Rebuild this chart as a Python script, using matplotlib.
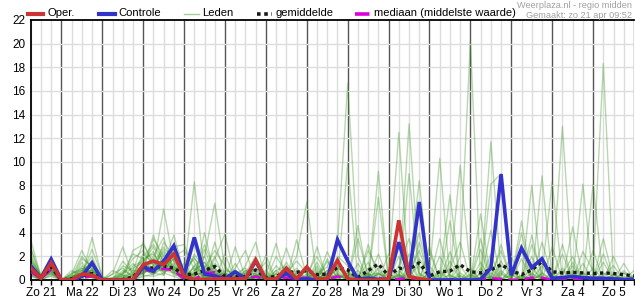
import numpy as np
import matplotlib
matplotlib.use("Agg")
from matplotlib import pyplot as plt
from matplotlib.lines import Line2D

plt.rcParams['font.family'] = ['Liberation Sans', 'DejaVu Sans']

# 6-hourly steps, from Zo 21 06:00 up to Ma 6 00:00
day_labels = ['Zo 21', 'Ma 22', 'Di 23', 'Wo 24', 'Do 25', 'Vr 26', 'Za 27', 'Zo 28',
              'Ma 29', 'Di 30', 'Wo 1', 'Do 2', 'Vr 3', 'Za 4', 'Zo 5']
n_steps = 60

oper = [1.0, 0.15, 1.45, 0, 0, 0.5, 0.4, 0, 0, 0, 0.05, 1.3, 1.6, 1.3, 2.2,
        0.3, 0.05, 0.05, 0.1, 0.1, 0.1, 0.1, 1.7, 0.05, 0.1, 1.0, 0.1, 1.1, 0.1, 0.1,
        1.65, 0.1, 0, 0, 0, 0.1, 5.05, 0.3, 0.1, 0]

controle = [1.2, 0.15, 1.75, 0, 0, 0.3, 1.45, 0, 0, 0, 0, 1.1, 0.75, 1.6, 2.9,
            0.4, 3.6, 0.5, 0.35, 0.1, 0.7, 0.1, 1.6, 0, 0.05, 0.55, 0, 0.1, 0, 0,
            3.4, 1.6, 0.05, 0.15, 0.05, 0.05, 3.2, 0.3, 6.6, 0, 0, 0, 0, 0, 0.05,
            1.0, 8.95, 0.4, 2.7, 1.05, 1.8, 0.15, 0.2, 0.3, 0.2, 0.15, 0.15, 0.1, 0.05, 0.05]

gemiddelde = [0.9, 0.2, 1.1, 0.0, 0.1, 0.35, 0.55, 0.05, 0.0, 0.05, 0.25, 1.1, 1.0, 1.2, 1.0,
              0.45, 0.5, 0.8, 1.15, 0.3, 0.3, 0.3, 0.85, 0.2, 0.3, 0.7, 0.65, 0.8, 0.45, 0.5,
              1.05, 0.85, 0.2, 0.8, 1.35, 0.35, 1.0, 0.9, 1.45, 0.35, 0.7, 0.75, 1.3, 0.7, 0.6,
              0.85, 1.3, 0.8, 0.45, 0.85, 1.55, 0.7, 0.6, 0.65, 0.6, 0.55, 0.6, 0.55, 0.45, 0.35]

mediaan = [0.7, 0.1, 0.9, 0, 0, 0.2, 0.3, 0, 0, 0, 0.1, 0.9, 0.7, 0.95, 0.8,
           0.1, 0.05, 0.6, 0.65, 0.05, 0.05, 0.05, 0.3, 0, 0.05, 0.2, 0.1, 0.2, 0.05, 0.05,
           0.3, 0.1, 0, 0.1, 0.2, 0, 0.1, 0.15, 0.1, 0, 0, 0.05, 0.05, 0, 0.1,
           0.15, 0.1, 0, 0.05, 0.2, 0.2, 0, 0, 0.05, 0, 0, 0, 0, 0, 0]

leden = [
    [3.4, 0.3, 1.2, 0, 0.2, 0.8, 1.5, 0, 0, 0.5, 1.8, 2.5, 1.2, 6.0, 1.5, 0.3, 1.0, 0.2, 0.5, 0, 0.8, 0, 0.3,
     0, 1.2, 0.4, 0, 0.5, 2.0, 0.3, 0.8, 0, 0.2, 1.5, 0, 0, 1.2, 3.5, 0.5, 0, 2.0, 0.4, 0,
     1.0, 0, 0.3, 2.5, 0, 1.8, 0, 0.4, 0, 0, 1.2, 0, 0.5, 0, 0, 0, 0],
    [1.5, 0.1, 0.8, 0, 0, 1.2, 0.6, 0, 0.2, 0, 0.4, 1.8, 2.2, 1.0, 2.4, 0.5, 8.3, 0.6, 1.0, 0.2, 0, 0.5, 1.4,
     0, 0, 2.7, 0.3, 0.2, 0.6, 1.1, 3.0, 16.6, 2.0, 0, 0.5, 0.3, 0, 1.2, 4.0, 0, 0, 1.0, 3.2,
     0, 0.5, 0, 1.2, 0.8, 0, 2.0, 0, 0, 1.0, 0, 0.6, 0, 2.2, 0, 0.3, 0],
    [0.8, 0.4, 2.0, 0, 0.5, 2.5, 0.8, 0, 0, 1.2, 0.8, 0.8, 3.5, 2.0, 0.6, 1.4, 0.2, 2.0, 6.5, 1.0, 0.3, 0, 0.2,
     0.8, 0, 0, 1.0, 0, 1.5, 0, 0.4, 0, 0, 2.5, 0.8, 0, 0.5, 0, 1.8, 0.4, 0, 0, 2.0,
     20.2, 0, 1.0, 0, 0, 0.4, 0, 3.2, 0.3, 0, 0.8, 0, 1.0, 0, 0, 0, 0.2],
    [2.2, 0.2, 1.4, 0, 0, 0.3, 3.6, 0.2, 0, 0, 0, 1.2, 0.6, 1.4, 3.8, 0.6, 0.4, 0, 1.8, 3.9, 0, 0.6, 0.8,
     0, 0.5, 0.3, 2.0, 6.6, 0, 0.4, 0, 0.6, 0, 0, 2.2, 0, 0, 0.8, 0, 0, 0.8, 0, 0,
     0, 2.6, 0, 0.8, 0, 0, 1.0, 0, 0, 0, 0, 2.4, 0.8, 18.3, 0, 0.6, 0],
    [0.5, 0, 0.9, 0, 0, 0.6, 0.4, 0, 0.5, 2.8, 0.3, 0.6, 1.0, 2.6, 1.2, 0, 2.2, 1.0, 0.4, 0, 2.8, 0.2, 0,
     0.4, 0, 0, 0.6, 1.0, 0, 2.4, 0.5, 0, 1.4, 0, 0, 2.2, 0, 13.2, 0.6, 0, 0, 1.6, 0,
     0, 0, 2.2, 0, 1.0, 0, 0, 0.6, 0, 3.0, 0, 0, 0, 0.4, 1.2, 0, 0.3],
    [1.8, 0.3, 1.0, 0, 0.3, 2.0, 1.0, 0, 0, 0, 2.5, 3.0, 1.5, 0.8, 1.8, 0, 0.6, 3.0, 0.8, 0.5, 0, 1.2, 3.2,
     0, 0.3, 0, 0, 0.4, 0, 0.8, 1.2, 0, 3.5, 0.4, 0, 0.8, 12.5, 0, 0, 1.2, 0, 0, 0.4,
     0, 1.5, 0, 0, 0.4, 0, 0.6, 0, 0, 13.0, 0, 0, 0, 0, 2.0, 0, 0],
    [1.2, 0.2, 1.6, 0, 0.8, 0.4, 1.2, 0, 0, 0.6, 1.0, 1.5, 2.8, 1.2, 0.8, 0.8, 0, 0.3, 2.0, 0, 1.0, 2.5, 0,
     0, 2.0, 0.6, 0, 0, 0, 0, 2.0, 1.2, 0, 0.5, 0, 0, 0.6, 1.5, 0, 0.6, 10.3, 0, 0,
     0.5, 0, 11.7, 0.5, 0, 2.5, 0, 0, 0.6, 0, 0, 1.4, 0, 0, 0.5, 0, 0],
    [0.6, 0.1, 0.6, 0, 0, 1.0, 0.5, 0, 0, 0, 0.3, 0.8, 0.6, 3.2, 2.0, 2.5, 1.5, 0, 0.6, 0.3, 0, 0.3, 0.6,
     1.5, 0, 0, 3.4, 0.3, 0, 1.6, 0.2, 9.9, 0, 0, 0.6, 0, 2.0, 0, 0, 0, 0, 0.5, 9.7,
     0.8, 0, 0, 0.4, 2.0, 0, 1.2, 0, 0, 0.5, 2.0, 0, 0, 0, 0, 0.8, 0],
    [2.6, 0.4, 1.8, 0, 0.2, 0.5, 2.6, 0.3, 0, 0, 0, 0.6, 1.8, 1.0, 2.6, 0.2, 0.8, 1.5, 0, 0, 0.5, 0, 1.0,
     0, 0.8, 1.2, 0, 0.8, 0.4, 0, 0.6, 0, 0.5, 0, 9.2, 0, 0, 0.6, 2.5, 0, 0, 0.4, 0,
     0, 0, 8.1, 9.0, 0, 0, 3.0, 0.6, 0, 0.8, 0, 0, 2.5, 0, 0, 0, 0],
    [1.0, 0.2, 0.7, 0, 0, 1.5, 0.2, 0, 0, 1.6, 0.6, 2.0, 3.0, 1.6, 0.4, 0.4, 3.0, 0.5, 1.4, 0.6, 0, 0, 0.4,
     0.2, 0, 1.0, 0.4, 0, 0.8, 0, 1.0, 0.4, 0, 3.0, 0, 0, 0, 1.0, 8.4, 0, 0.6, 0, 1.2,
     0, 3.5, 0, 0, 0.8, 0, 0, 8.8, 0, 0, 1.5, 0, 0, 0.6, 0, 0, 0.4],
    [0.4, 0, 0.5, 0, 0, 0, 1.0, 0, 0.8, 0.4, 0, 1.0, 0.4, 2.2, 1.0, 1.0, 0, 4.0, 0.3, 0, 0.6, 0, 0.5,
     0, 0, 0.5, 1.6, 0.6, 0, 0.6, 0, 0, 0.8, 0, 1.0, 0, 0, 9.0, 0, 2.8, 0, 0, 0,
     0, 0.6, 0, 1.6, 0, 0, 8.0, 0, 0, 0, 0, 0.6, 0, 1.5, 0, 0, 0],
    [1.6, 0.3, 1.2, 0, 0.4, 0.2, 0.8, 0, 0, 0, 1.2, 1.6, 2.4, 0.6, 1.2, 0, 0.3, 0.8, 1.0, 0, 1.4, 0, 0,
     0.4, 3.1, 0, 0.2, 0, 0.6, 0.5, 0, 0.6, 0, 0, 7.0, 0, 0.4, 0, 0, 0.5, 0, 2.4, 0,
     0, 0, 0.6, 0, 0, 0, 0, 0.5, 8.3, 0, 0, 8.1, 0, 0, 0.4, 0, 0],
    [0.9, 0.2, 1.0, 0, 0, 0.8, 2.0, 0, 0, 0.3, 0, 0.7, 0.8, 1.8, 0.8, 0, 1.2, 2.0, 0, 2.2, 0, 0, 0.4,
     0, 0, 0, 0.8, 0, 2.8, 0, 0.4, 0, 0, 1.0, 0, 0.6, 0, 0.4, 1.2, 0, 0.4, 7.2, 0,
     0, 1.0, 0, 0, 0, 4.0, 0, 1.2, 0, 0, 0.6, 0, 8.1, 0, 0, 0, 0],
    [2.0, 0.3, 1.5, 0, 0.6, 0.8, 0.4, 0, 0.2, 0.6, 2.2, 1.8, 0.6, 0.4, 2.2, 0.3, 0.6, 0.2, 3.2, 0.4, 0.5, 1.0, 0,
     0.6, 0, 0.4, 0, 0, 0, 0.8, 0, 0, 0, 0.4, 0.6, 0, 3.0, 0, 0, 0, 0, 0, 0.6,
     0, 0, 1.4, 0, 0.5, 0, 0.5, 0, 0, 2.2, 0, 0, 0, 0, 0, 1.4, 0],
    [0.3, 0, 0.4, 0, 0, 0, 0.3, 0, 0, 0, 0, 0.4, 0.3, 0.6, 0.3, 0, 0, 0, 0.2, 0, 0, 0, 0,
     0, 0, 0, 0, 0, 0, 0, 0, 0, 0, 0, 0, 0, 0, 0, 0, 0, 0, 0, 0,
     0, 0, 0, 0, 0, 0, 0, 0, 0, 0, 0, 0, 0, 0, 0, 0, 0],
    [1.1, 0.1, 0.9, 0, 0, 0.5, 0.2, 0, 0, 0.3, 0.6, 1.2, 1.0, 0.8, 0.6, 0, 0.5, 0.6, 0.2, 0, 0, 0, 0.3,
     0, 0, 0, 0, 0, 0, 0, 0.5, 0, 0, 0, 0, 0, 0.3, 0, 0, 0, 0, 0, 0,
     0, 0, 0.3, 0, 0, 0, 0, 0, 0, 0, 0, 0, 0, 0, 0, 0, 0],
    [0.7, 0.2, 1.3, 0, 0, 0.2, 0.6, 0, 0, 0, 0, 0.9, 0.5, 1.0, 0.9, 0.2, 0, 0.5, 0.6, 0, 0.2, 0, 0.4,
     0, 0, 0.2, 0, 0.3, 0, 0, 0, 0, 0, 0.3, 0, 0, 0, 0, 0, 0, 0, 0, 0.3,
     0, 0, 0, 0, 0, 0.3, 0, 0, 0, 0, 0, 0, 0, 0, 0, 0, 0],
    [1.4, 0.3, 0.6, 0, 0, 1.8, 1.2, 0, 0, 0.8, 0.4, 2.2, 1.4, 2.8, 1.6, 0.8, 1.8, 1.0, 2.5, 1.2, 0, 0.8, 0,
     2.1, 0, 0, 0.5, 0, 1.0, 0, 0, 0.8, 0, 0, 0, 0, 0, 2.2, 0, 0, 3.5, 0, 0,
     0, 0, 0, 0, 0, 0, 0, 0, 0, 0, 0, 0, 0, 0, 0, 0, 0],
    [0.5, 0.1, 1.1, 0, 0.3, 0.6, 0.8, 0, 0, 0.5, 1.4, 0.5, 1.6, 0.4, 2.8, 3.0, 0.8, 1.5, 0.5, 0, 0.3, 0.6, 2.0,
     0.3, 0, 1.5, 0, 0, 0, 1.8, 0, 0, 0, 0, 0, 0, 0, 0, 0, 0, 0, 0, 0,
     0, 0, 0, 0, 0, 0, 0, 0, 0, 0, 0, 0, 0, 0, 0, 0, 0],
    [2.8, 0.2, 0.8, 0, 0.3, 0.4, 0.6, 0, 0, 0, 0.8, 3.2, 1.2, 0.7, 1.4, 0, 0.4, 2.6, 0.3, 0.6, 0.2, 0, 0,
     0, 0.8, 0, 0, 0, 0, 0, 0, 0, 0, 0, 0, 0, 0, 0, 0, 0, 0, 0, 0,
     0, 0, 0, 0, 0, 0, 0, 0, 0, 0, 0, 0, 0, 0, 0, 0, 0],
    [0.6, 0.2, 0.7, 0, 0, 0.4, 0.3, 0, 0, 0.2, 0, 0.8, 2.0, 3.6, 0.6, 0.6, 2.0, 0, 0.8, 0, 0, 0.4, 0,
     0, 0.6, 0, 0, 0, 0, 0, 1.2, 0, 0, 0.6, 0, 0, 0.4, 0, 3.2, 0, 0, 5.0, 0,
     0.4, 0, 4.2, 0, 0, 0, 3.8, 0, 0, 0, 4.5, 0, 0, 0, 0, 0.6, 0],
    [1.3, 0.1, 1.2, 0, 0, 0.3, 0.9, 0, 0, 0, 0, 1.4, 0.8, 1.2, 0.6, 0, 0.6, 0.4, 0, 0, 0.4, 0, 0.6,
     0, 0.5, 0, 0, 0, 0.2, 0.5, 1.5, 0, 4.6, 0, 0, 0, 0, 0.6, 0, 2.4, 0, 0, 0,
     0, 5.6, 0, 0, 0, 5.0, 0, 0, 2.8, 0, 0, 0, 0, 3.5, 0, 0, 0.8],
    [0.9, 0.3, 0.5, 0, 0.5, 1.0, 0.4, 0, 0, 0, 0.5, 0.5, 1.2, 2.4, 0.9, 1.2, 0, 0, 0.5, 0, 0.3, 0, 0,
     0, 0, 0.6, 0, 0, 0, 0, 0, 0, 0, 0, 0.5, 0, 0, 0, 0, 0.5, 0, 0, 0,
     0, 0, 0, 0.6, 0, 0, 0, 0, 0, 0, 0, 0, 0, 0, 0, 0, 0],
    [1.7, 0.2, 0.9, 0, 0.2, 0.6, 1.7, 0, 0.5, 1.0, 0.2, 1.0, 3.8, 1.4, 1.0, 0, 1.2, 0.4, 0, 0.8, 0.6, 0.3, 0,
     0, 0, 0, 0, 1.0, 0, 0, 0, 0, 0, 0.5, 0, 0, 0.8, 0, 0, 0, 0, 0, 0,
     0, 0, 0, 3.0, 0, 0, 0, 0, 0, 0, 0, 0, 0, 0, 0, 0, 0],
    [0.4, 0.1, 0.3, 0, 0, 0, 0, 0, 0, 0, 0, 0.3, 0.5, 1.2, 1.8, 0.3, 0, 0.3, 0, 0, 0, 0, 0,
     0, 0, 0, 0, 0, 0, 0, 0, 0, 0, 0, 0, 0, 0, 0, 0, 0, 0, 0, 0,
     0, 0, 0, 0, 0, 0, 0, 0, 0, 0, 0, 0, 0, 0, 0, 0, 0],
    [1.0, 0.4, 1.9, 0, 0.1, 0.5, 0.8, 0, 0, 0.4, 0.3, 1.3, 1.6, 0.9, 3.0, 0.4, 0.5, 1.2, 0.6, 0.4, 0, 0.8, 0.5,
     0, 0, 0, 0, 0, 1.2, 0, 0, 0, 0, 0, 0, 0, 0, 0, 0, 0, 0, 0, 0,
     0, 0, 0, 0, 0, 0, 0, 0, 0, 0, 0, 0, 0, 0, 0, 0, 0],
]

steps = np.arange(n_steps)

fig = plt.figure(figsize=(6.35, 3.0), dpi=100)
ax = fig.add_axes([30.7 / 635, 20 / 300, 603.3 / 635, 260 / 300])

# grid: light every 6 h, dark at midnight
for s in steps:
    is_day = (s - 3) % 4 == 0
    ax.axvline(s, color='#555555' if is_day else '#dcdcdc', lw=1.0, zorder=0)
for yv in range(2, 22, 2):
    ax.axhline(yv, color='#dcdcdc', lw=1.0, zorder=0)

for m in leden:
    ax.plot(steps[:len(m)], m, color='#3a9420', lw=1.0, alpha=0.36, zorder=2)

ax.plot(steps, mediaan, color='#dd00dd', lw=1.8, ls=(0, (4, 2.5)), zorder=3)
ax.plot(steps, gemiddelde, color='#1a1a1a', lw=2.4, ls=(0, (1, 1)), zorder=4)
ax.plot(steps, controle, color='#3333cc', lw=2.6, zorder=5, solid_joinstyle='miter')
ax.plot(steps[:len(oper)], oper, color='#cc3333', lw=2.6, zorder=6, solid_joinstyle='miter')

ax.set_xlim(0, n_steps - 1)
ax.set_ylim(0, 22)
ax.set_yticks(range(0, 23, 2))
ax.tick_params(axis='y', length=0, pad=4, labelsize=8.5)
ax.set_xticks(steps, minor=True)
ax.set_xticks([1 + 4 * k for k in range(len(day_labels))])
ax.set_xticklabels(day_labels)
ax.tick_params(axis='x', which='both', length=3.5, width=1, pad=1.5, labelsize=8.5, direction='out')

for side in ['left', 'top', 'bottom']:
    ax.spines[side].set_color('black')
    ax.spines[side].set_linewidth(1.3)
ax.spines['right'].set_visible(False)

# legend across the top
leg_y = 1 - 13.5 / 300
legend_items = [
    (28, 43, 47, dict(color='#cc3333', lw=3), 'Oper.'),
    (99, 115, 118.5, dict(color='#3333cc', lw=3), 'Controle'),
    (184, 199, 202, dict(color='#3a9420', lw=1, alpha=0.45), 'Leden'),
    (257, 272, 276, dict(color='#1a1a1a', lw=2.6, ls=(0, (1, 1))), 'gemiddelde'),
    (355, 371, 374, dict(color='#dd00dd', lw=2.6, ls=(0, (4, 1.6, 0.6, 1.6))), 'mediaan (middelste waarde)'),
]
for x0, x1, xt, style, label in legend_items:
    fig.add_artist(Line2D([x0 / 635, x1 / 635], [leg_y, leg_y], transform=fig.transFigure, **style))
    fig.text(xt / 635, leg_y, label, fontsize=8.1, va='center', ha='left')

fig.text(632 / 635, 1 - 5.5 / 300, 'Weerplaza.nl - regio midden', fontsize=6.6, color='#a0a0a0',
         ha='right', va='center')
fig.text(632 / 635, 1 - 15.5 / 300, 'Gemaakt: zo 21 apr 09:52', fontsize=6.6, color='#a0a0a0',
         ha='right', va='center')

fig.savefig('out.png', dpi=100)
